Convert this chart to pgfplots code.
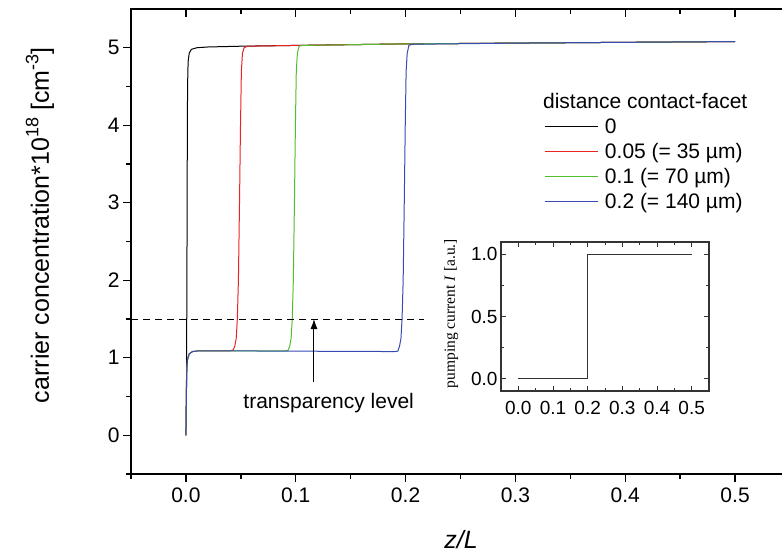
\documentclass[border=0pt]{standalone}
\usepackage{pgfplots}
\pgfplotsset{compat=1.18}
\usepackage{fontspec}
\setmainfont{Liberation Sans}
\newfontfamily\seriffont{Liberation Serif}
\usetikzlibrary{arrows.meta}
\definecolor{cRed}{RGB}{235,35,35}
\definecolor{cGreen}{RGB}{80,190,45}
\definecolor{cBlue}{RGB}{55,75,180}
\newcommand{\supx}[1]{\raisebox{0.42em}{\fontsize{18}{20}\selectfont #1}}
\begin{document}
\begin{tikzpicture}
\pgfplotsset{
  mainbase/.style={
    scale only axis, width=659pt, height=465pt,
    at={(0pt,0pt)}, anchor=south west,
    xmin=-0.05, xmax=0.55, ymin=-0.5, ymax=5.5,
    xtick={0,0.1,0.2,0.3,0.4,0.5},
    minor xtick={-0.05,0.05,0.15,0.25,0.35,0.45},
    ytick={0,1,2,3,4,5},
    minor ytick={-0.5,0.5,1.5,2.5,3.5,4.5},
    major tick length=8pt, minor tick length=5pt,
    every tick/.style={black, line width=1.4pt},
    axis line style={line width=1.6pt},
    /pgf/number format/assume math mode=true,
  }
}
% ticks on top and right (pointing inward)
\begin{axis}[mainbase, tick align=inside, xtick pos=right, ytick pos=right,
  xticklabels={}, yticklabels={}]
\end{axis}
\begin{axis}[mainbase, tick align=outside, xtick pos=left, ytick pos=left,
  ticklabel style={font=\fontsize{21}{25}\selectfont},
  xticklabel style={yshift=-2pt, /pgf/number format/.cd, fixed, fixed zerofill, precision=1},
  xlabel={\textit{z/L}},
  xlabel style={font=\fontsize{25}{30}\selectfont, at={(axis description cs:0.5008,-0.142)}, anchor=center},
  ylabel={carrier concentration*10\supx{18} [cm\supx{-3}]},
  ylabel style={font=\fontsize{25}{30}\selectfont, at={(axis description cs:-0.138,0.535)}, anchor=center},
  legend cell align=left,
  legend style={at={(axis description cs:0.622,0.775)}, anchor=north west, draw=none, fill=none,
    font=\fontsize{21}{25}\selectfont, row sep=2.6pt, nodes={inner sep=2.8pt}},
  legend image code/.code={\draw[#1, line width=1.2pt] (0pt,0pt) -- (53pt,0pt); \path (57pt,0pt);},
]
\addplot[black, line width=1pt] coordinates {
 (0,0) (0.0005,0.6) (0.0009,2.0) (0.0012,3.5) (0.0015,4.5) (0.002,4.82) (0.003,4.93)
 (0.005,4.98) (0.01,5.0) (0.02,5.01) (0.05,5.02) (0.1,5.03) (0.15,5.04) (0.2,5.05)
 (0.3,5.06) (0.4,5.07) (0.5,5.08)};
\addlegendentry{0}
\addplot[cRed, line width=1pt] coordinates {
 (0,0) (0.0004,0.5) (0.0008,0.85) (0.0015,0.98) (0.003,1.05) (0.006,1.08) (0.012,1.09)
 (0.03,1.09) (0.04,1.09) (0.043,1.10) (0.0445,1.15) (0.0458,1.25) (0.0468,1.5)
 (0.0478,2.0) (0.0488,3.0) (0.0497,4.0) (0.0505,4.7) (0.0515,4.93) (0.053,5.0)
 (0.056,5.02) (0.1,5.03) (0.2,5.05) (0.3,5.06) (0.5,5.08)};
\addlegendentry{0.05 (= 35 µm)}
\addplot[cGreen, line width=1pt] coordinates {
 (0,0) (0.0004,0.5) (0.0008,0.85) (0.0015,0.98) (0.003,1.05) (0.006,1.08) (0.012,1.09)
 (0.05,1.09) (0.09,1.088) (0.093,1.095) (0.0945,1.15) (0.0958,1.25) (0.0968,1.5)
 (0.0978,2.0) (0.0988,3.0) (0.0997,4.0) (0.1005,4.7) (0.1015,4.93) (0.103,5.02)
 (0.106,5.03) (0.2,5.05) (0.3,5.06) (0.5,5.08)};
\addlegendentry{0.1 (= 70 µm)}
\addplot[cBlue, line width=1pt] coordinates {
 (0,0) (0.0004,0.5) (0.0008,0.85) (0.0015,0.98) (0.003,1.05) (0.006,1.08) (0.012,1.09)
 (0.05,1.088) (0.1,1.085) (0.19,1.08) (0.193,1.085) (0.1945,1.15) (0.1958,1.25)
 (0.1968,1.5) (0.1978,2.0) (0.1988,3.0) (0.1997,4.0) (0.2005,4.7) (0.2015,4.93)
 (0.203,5.03) (0.206,5.045) (0.3,5.06) (0.4,5.07) (0.5,5.08)};
\addlegendentry{0.2 (= 140 µm)}
\addplot[black, line width=1pt, dash pattern=on 7pt off 5pt, forget plot] coordinates {(-0.05,1.5) (0.217,1.5)};
\draw[-{Latex[length=10pt,width=7pt]}, line width=1pt] (axis cs:0.1166,0.685) -- (axis cs:0.1166,1.5);
\node[font=\fontsize{21}{25}\selectfont] at (axis cs:0.130,0.41) {transparency level};
\node[font=\fontsize{21}{25}\selectfont, anchor=base west, inner sep=0pt] at (axis cs:0.325,4.22) {distance contact-facet};
\end{axis}
% inset
\begin{axis}[at={(370pt,83pt)}, anchor=south west, scale only axis, width=208pt, height=149pt,
  xmin=-0.05, xmax=0.55, ymin=-0.1, ymax=1.1,
  xtick={0,0.1,0.2,0.3,0.4,0.5}, minor xtick={0.05,0.15,0.25,0.35,0.45},
  ytick={0,0.5,1}, minor ytick={0.25,0.75},
  tick align=inside, major tick length=5pt, minor tick length=3pt,
  every tick/.style={black!80, line width=1pt},
  axis line style={black!80, line width=1.2pt},
  /pgf/number format/assume math mode=true,
  ticklabel style={font=\fontsize{19}{22}\selectfont},
  xticklabel style={yshift=-7pt, /pgf/number format/.cd, fixed, fixed zerofill, precision=1},
  yticklabel style={/pgf/number format/.cd, fixed, fixed zerofill, precision=1},
  ylabel={\seriffont pumping current \textit{I} [a.u.]},
  ylabel style={font=\fontsize{15.5}{18}\selectfont, at={(axis description cs:-0.24,0.52)}, anchor=center},
]
\addplot[black!80, line width=1pt] coordinates {(0,0) (0.2,0) (0.2,1) (0.5,1)};
\end{axis}
\pgfresetboundingbox
\useasboundingbox (-131pt,-81pt) rectangle (651pt,474pt);
\end{tikzpicture}
\end{document}
